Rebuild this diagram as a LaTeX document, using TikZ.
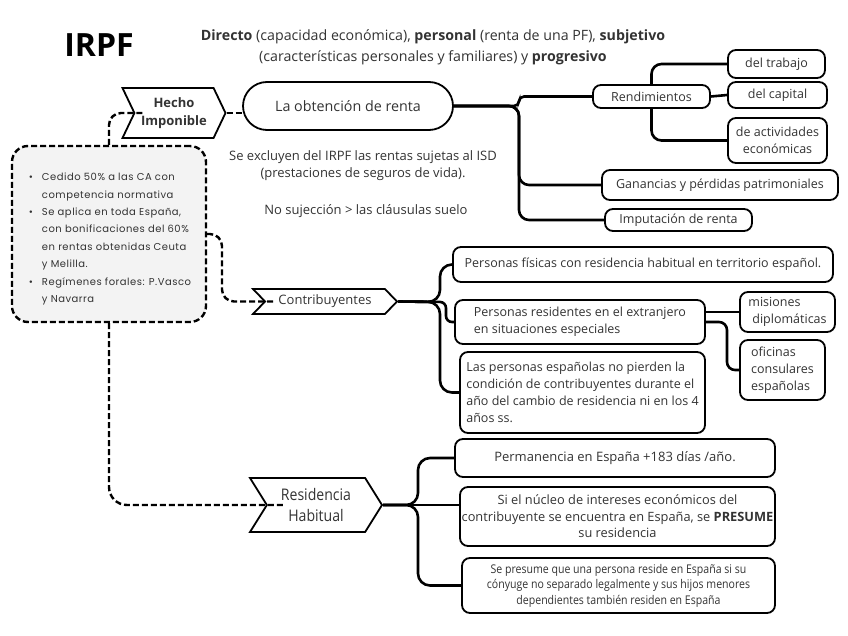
\documentclass[tikz,border=0pt]{standalone}
\usepackage{fontspec}
\setmainfont{Open Sans}
\newfontfamily\leftfont[LetterSpace=5]{Poppins}
\newfontfamily\condfont[FakeStretch=0.88]{Open Sans}
\usetikzlibrary{shapes.symbols}
\definecolor{txt}{HTML}{333333}
\definecolor{boxgray}{HTML}{F3F3F3}
\begin{document}
\begin{tikzpicture}[x=1pt,y=-1pt,
  every node/.style={text=txt, inner sep=0pt},
  rbox/.style={draw=black, line width=1.8pt, rounded corners=8pt, fill=white,
    font=\fontsize{12.5}{17}\selectfont, align=center},
  chev/.style={draw=black, line width=1.8pt, fill=white, shape=signal,
    signal from=west, signal to=east},
  link/.style={draw=black, line width=2.6pt, rounded corners=10pt},
  dlink/.style={draw=black, line width=2.4pt, dash pattern=on 6pt off 3pt, rounded corners=12pt},
  plain/.style={font=\fontsize{13}{17}\selectfont, align=center}
]
\useasboundingbox (0,0) rectangle (848,636);
\fill[white] (0,0) rectangle (848,636);

% titles
\node[font=\fontsize{32}{32}\selectfont\bfseries, text=black] (title) at (99,45) {IRPF};
\node[plain, font=\fontsize{14.2}{21}\selectfont] (intro) at (433,47)
  {\textbf{Directo} (capacidad económica), \textbf{personal} (renta de una PF), \textbf{subjetivo}\\
   (características personales y familiares) y \textbf{progresivo}};

% hecho imponible
\node[chev, minimum width=103, minimum height=50, signal pointer angle=129,
  font=\fontsize{13}{18}\selectfont\bfseries, align=center] (hecho) at (174,113) {Hecho\\Imponible};
\node[rbox, rounded corners=24pt, minimum width=210, minimum height=48,
  font=\fontsize{14.3}{17}\selectfont] (obt) at (348,106) {La obtención de renta};
\node[plain] (excl) at (363,165.5) {Se excluyen del IRPF las rentas sujetas al ISD\\(prestaciones de seguros de vida).};
\node[plain] (nosuj) at (366,211) {No sujección > las cláusulas suelo};

\node[rbox, minimum width=117, minimum height=23] (rend) at (651.5,96.5) {Rendimientos};
\node[rbox, minimum width=97, minimum height=28] (trab) at (776.5,64) {del trabajo};
\node[rbox, minimum width=99, minimum height=26] (capi) at (777.5,95) {del capital};
\node[rbox, minimum width=99, minimum height=45] (activ) at (777.5,140.5) {de actividades\\económicas};
\node[rbox, minimum width=236, minimum height=30] (gan) at (720,185) {Ganancias y pérdidas patrimoniales};
\node[rbox, minimum width=147, minimum height=22] (imp) at (678.5,220) {Imputación de renta};

% left box
\node[draw=black, line width=2.4pt, dash pattern=on 6pt off 3pt, rounded corners=16pt,
  fill=boxgray, minimum width=194, minimum height=176] (leftbox) at (109,234) {};
\node[align=left, font=\leftfont\fontsize{10}{17.4}\selectfont] (lefttext) at (110,239)
  {\makebox[13pt][l]{•}Cedido 50\% a las CA con\\
   \hspace*{13pt}competencia normativa\\
   \makebox[13pt][l]{•}Se aplica en toda España,\\
   \hspace*{13pt}con bonificaciones del 60\%\\
   \hspace*{13pt}en rentas obtenidas Ceuta\\
   \hspace*{13pt}y Melilla.\\
   \makebox[13pt][l]{•}Regímenes forales: P.Vasco\\
   \hspace*{13pt}y Navarra};

% contribuyentes
\node[chev, minimum width=144, minimum height=25, signal pointer angle=92,
  font=\fontsize{13}{16}\selectfont] (contrib) at (325,301.5) {Contribuyentes};
\node[rbox, minimum width=380, minimum height=35] (pfis) at (643,264.5)
  {Personas físicas con residencia habitual en territorio español.};
\node[rbox, minimum width=250, minimum height=44, align=left] (pres) at (580,322)
  {Personas residentes en el extranjero\\en situaciones especiales};
\node[rbox, minimum width=245, minimum height=81, align=left] (pesp) at (582.5,392.5)
  {Las personas españolas no pierden la\\condición de contribuyentes durante el\\año del cambio de residencia ni en los 4\\años ss.};
\node[rbox, minimum width=95, minimum height=40, align=left] (mis) at (787.5,312)
  {misiones\\\hspace*{4pt}diplomáticas};
\node[rbox, minimum width=85, minimum height=60, align=left] (ofi) at (782.5,370)
  {oficinas\\consulares\\españolas};

% residencia habitual
\node[chev, minimum width=132, minimum height=54, signal pointer angle=116,
  font=\condfont\fontsize{16}{21}\selectfont, align=center] (resid) at (316,505) {Residencia\\Habitual};
\node[rbox, minimum width=320, minimum height=38, font=\fontsize{13}{17}\selectfont] (perm) at (615,458)
  {Permanencia en España +183 días /año.};
\node[rbox, minimum width=315, minimum height=59, font=\fontsize{12.8}{16.5}\selectfont] (nucleo) at (617.5,516.5)
  {Si el núcleo de intereses económicos del\\contribuyente se encuentra en España, se \textbf{PRESUME}\\su residencia};
\node[rbox, minimum width=313, minimum height=55, font=\condfont\fontsize{12}{15.5}\selectfont] (presume) at (618.5,585.5)
  {Se presume que una persona reside en España si su\\cónyuge no separado legalmente y sus hijos menores\\dependientes también residen en España};

% notches of the chevrons
\coordinate (hechoIn) at ([xshift=12pt]hecho.west);
\coordinate (contribIn) at ([xshift=12pt]contrib.west);
\coordinate (residIn) at ([xshift=17pt]resid.west);

% solid connectors
\draw[link] (obt.east) -- (519,106) |- (gan.west);
\draw[link] (obt.east) -- (519,106) |- (imp.west);
\draw[link, rounded corners=5pt] (obt.east) -- (519,106) |- (rend.west);
\draw[link] (rend.north) |- (trab.west);
\draw[link] (rend.east) -- (capi.west);
\draw[link] (rend.south) |- (activ.west);

\draw[link, rounded corners=12pt] (contrib.east) -- (440,302) |- (pfis.west);
\draw[link, rounded corners=6pt] (contrib.east) -- (446,302) |- (pres.west);
\draw[link, rounded corners=12pt] (contrib.east) -- (440,302) |- (pesp.west);
\draw[link] (pres.east |- mis.west) -- (mis.west);
\draw[link, rounded corners=8pt] (pres.east) -- (727,322) |- (ofi.west);

\draw[link, rounded corners=12pt] (resid.east) -- (418,505) |- (perm.west);
\draw[link] (resid.east) -- (resid.east -| nucleo.west);
\draw[link, rounded corners=12pt] (resid.east) -- (418,505) |- (presume.west);

% dashed connectors
\draw[dlink] (hecho.east) -- (obt.west |- hecho.east);
\draw[dlink] (leftbox.north) |- (hechoIn);
\draw[dlink] (leftbox.east) -- (222,234) |- (contribIn);
\draw[dlink, rounded corners=18pt] (leftbox.south) |- (residIn);
\end{tikzpicture}
\end{document}
